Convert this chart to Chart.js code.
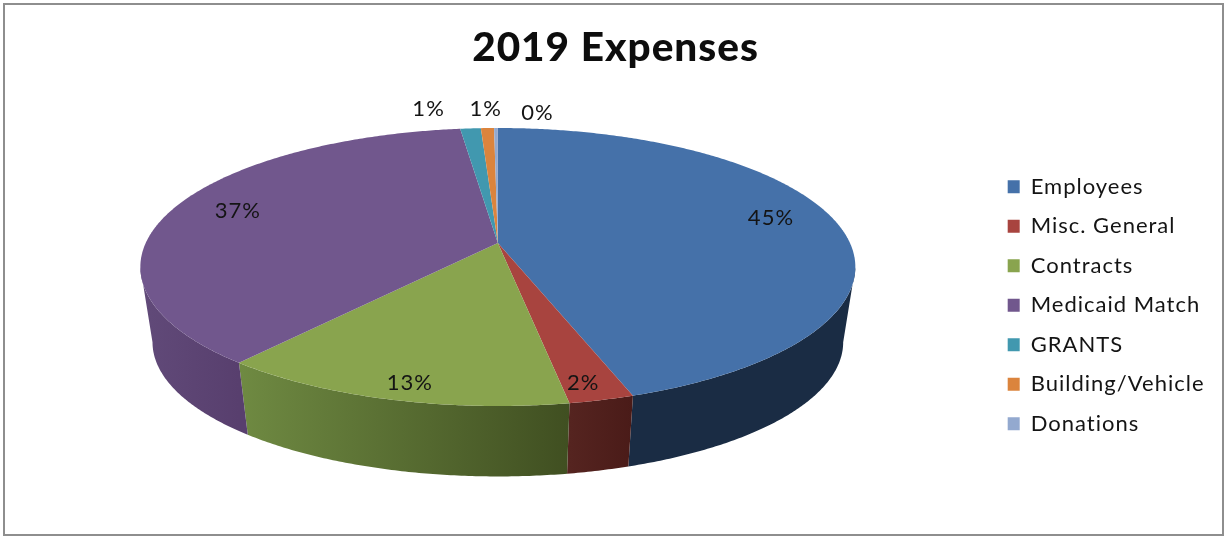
<!DOCTYPE html>
<html>
<head>
<meta charset="utf-8">
<title>2019 Expenses</title>
<script src="https://cdn.jsdelivr.net/npm/chart.js@4"></script>
<style>
  body { margin: 0; background: #fff; }
  #frame { position: absolute; left: 3px; top: 3px; width: 1217px; height: 529px; border: 2px solid #8e8e8e; }
  #holder { position: absolute; left: 0; top: 0; width: 1225px; height: 536px; }
</style>
</head>
<body>
<div id="holder"><canvas id="myChart"></canvas></div>
<div id="frame"></div>
<script>
'use strict';
var chartTitle = '2019 Expenses';
var categories = ['Employees', 'Misc. General', 'Contracts', 'Medicaid Match', 'GRANTS', 'Building/Vehicle', 'Donations'];
// shares
var shares = [44.8, 2.5, 13.7, 37.0, 1.1, 0.7, 0.2];
// printed labels, these do not quite agree with the slice sizes in the original
var percentLabels = ['45%', '2%', '13%', '37%', '1%', '1%', '0%'];

var topColors = ['#4571a9', '#a8443f', '#89a44e', '#71578d', '#4198af', '#db843d', '#93a9cf'];
// side wall colours, left end and right end of each slice
var wallLeft = ['#1a2c44', '#552420', '#6f8a42', '#614a79', '#2c6a7a', '#99582a', '#667690'];
var wallRight = ['#1a2c44', '#4a1b18', '#404f21', '#583f6e', '#2c6a7a', '#99582a', '#667690'];
// where each percent label sits: fraction of radius, degrees off the slice middle
var labelRadius = [0.825, 0.905, 0.905, 0.809, 1.22, 1.2, 1.163];
var labelShift = [-4.3, 1.1, -1.4, 1.7, -6, 0, 7];

// the pie is a flat disc seen from an angle
var tilt = 0.1726;
var widthRatio = 1.5955;
var heightRatio = 0.611;
var apexLift = 62.3;
var wallScale = 0.966;
var wallDrop = 76;
var wallFrom = 100;
var wallTo = 260;

function project(arc, deg, r, low) {
  var rad = deg * Math.PI / 180;
  var u = Math.sin(rad) * r;
  var v = -Math.cos(rad) * r;
  var w = 1 - tilt * v;
  var s = low ? wallScale : 1;
  return {
    x: arc.x + s * widthRatio * arc.outerRadius * u / w,
    y: arc.y - apexLift + (low ? wallDrop : 0) + s * heightRatio * arc.outerRadius * v / w
  };
}

function toDeg(angle) {
  return angle * 180 / Math.PI + 90;
}

function drawWall(ctx, arc, i) {
  var from = Math.max(toDeg(arc.startAngle), wallFrom);
  var to = Math.min(toDeg(arc.endAngle), wallTo);
  if (to <= from) {
    return;
  }
  var a;
  var first = project(arc, from, 1, false);
  var last = project(arc, to, 1, false);
  var grad = ctx.createLinearGradient(first.x, 0, last.x, 0);
  grad.addColorStop(0, wallRight[i]);
  grad.addColorStop(1, wallLeft[i]);
  ctx.beginPath();
  ctx.moveTo(first.x, first.y);
  for (a = from; a < to; a += 0.5) {
    var pt = project(arc, a, 1, false);
    ctx.lineTo(pt.x, pt.y);
  }
  ctx.lineTo(last.x, last.y);
  for (a = to; a > from; a -= 0.5) {
    var lowPt = project(arc, a, 1, true);
    ctx.lineTo(lowPt.x, lowPt.y);
  }
  var end = project(arc, from, 1, true);
  ctx.lineTo(end.x, end.y);
  ctx.closePath();
  ctx.fillStyle = grad;
  ctx.fill();
}

function drawTop(ctx, arc, i) {
  var from = toDeg(arc.startAngle);
  var to = toDeg(arc.endAngle);
  var centre = project(arc, 0, 0, false);
  ctx.beginPath();
  ctx.moveTo(centre.x, centre.y);
  for (var a = from; a < to; a += 0.5) {
    var pt = project(arc, a, 1, false);
    ctx.lineTo(pt.x, pt.y);
  }
  var last = project(arc, to, 1, false);
  ctx.lineTo(last.x, last.y);
  ctx.closePath();
  ctx.fillStyle = topColors[i];
  ctx.fill();
}

function drawLabel(ctx, arc, i) {
  var mid = (toDeg(arc.startAngle) + toDeg(arc.endAngle)) / 2 + labelShift[i];
  var pt = project(arc, mid, labelRadius[i], false);
  ctx.font = '22px Lato';
  ctx.fillStyle = '#141414';
  ctx.textAlign = 'center';
  ctx.textBaseline = 'middle';
  ctx.fillText(percentLabels[i], pt.x, pt.y);
}

var tiltedPie = {
  id: 'tiltedPie',
  beforeLayout: function (chart) {
    chart.ctx.letterSpacing = '1px';
  },
  afterLayout: function (chart) {
    // title sits a little right of the canvas middle
    chart.titleBlock.left += 11;
  },
  beforeDraw: function (chart) {
    chart.ctx.letterSpacing = '1px';
  },
  // the library works out the angles, the disc is drawn here instead of its flat arcs
  beforeDatasetDraw: function () {
    return false;
  },
  afterDatasetsDraw: function (chart) {
    var ctx = chart.ctx;
    var arcs = chart.getDatasetMeta(0).data;
    ctx.save();
    arcs.forEach(function (arc, i) { drawWall(ctx, arc, i); });
    arcs.forEach(function (arc, i) { drawTop(ctx, arc, i); });
    arcs.forEach(function (arc, i) { drawLabel(ctx, arc, i); });
    ctx.restore();
  }
};

var ctx = document.getElementById('myChart').getContext('2d');
var chart = new Chart(ctx, {
  type: 'pie',
  plugins: [tiltedPie],
  data: {
    labels: categories,
    datasets: [{
      data: shares,
      backgroundColor: topColors,
      borderWidth: 0
    }]
  },
  options: {
    responsive: true,
    maintainAspectRatio: false,
    animation: false,
    layout: { padding: { left: 5.5, right: 10.5, top: 0, bottom: 10 } },
    plugins: {
      title: {
        display: true,
        text: chartTitle,
        color: '#0d0d0d',
        font: { family: 'Lato', size: 40.5, weight: '900' },
        padding: { top: 24, bottom: 12 }
      },
      legend: {
        position: 'right',
        fullSize: false,
        labels: {
          color: '#141414',
          font: { family: 'Lato', size: 22 },
          boxWidth: 12,
          boxHeight: 13,
          padding: 17.5
        }
      },
      tooltip: { enabled: false }
    }
  }
});
</script>
</body>
</html>
